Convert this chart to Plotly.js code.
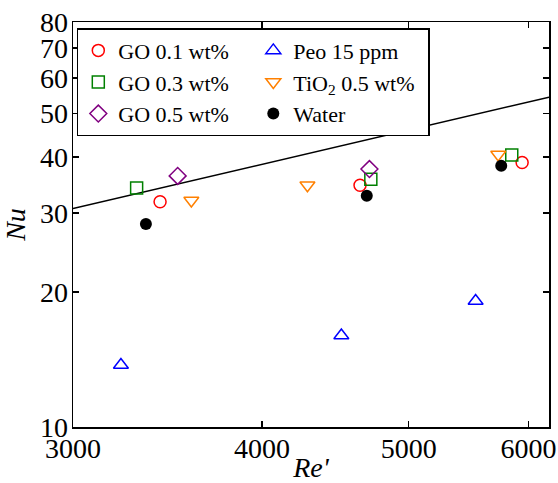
<!DOCTYPE html>
<html>
<head>
<meta charset="utf-8">
<script src="https://cdn.plot.ly/plotly-3.0.1.min.js"></script>
<style>html,body{margin:0;padding:0;background:#fff;}#chart{width:558px;height:483px;}</style>
</head>
<body>
<div id="chart"></div>
<script>
// Data
const go01Re = [3425, 4643, 5942];
const go01Nu = [31.8, 34.6, 38.9];
const go03Re = [3305, 4720, 5849];
const go03Nu = [34.1, 35.7, 40.4];
const go05Re = [3518, 4710];
const go05Nu = [36.3, 37.6];
const peoRe = [3227, 4513, 5536];
const peoNu = [13.75, 16.0, 19.1];
const tioRe = [3592, 4286, 5730];
const tioNu = [32.0, 34.6, 40.5];
const waterRe = [3352, 4691, 5756];
const waterNu = [28.35, 32.8, 38.25];
const corrRe = [3000, 6190];
const corrNu = [30.7, 54.4];
const xTicks = [3000, 4000, 5000, 6000];
const yTicks = [10, 20, 30, 40, 50, 60, 70, 80];

const FONT = "'Liberation Serif', 'Times New Roman', serif";
function mk(name, x, y, symbol, color, size, filled) {
  return {
    type: 'scatter', mode: 'markers', name: name, x: x, y: y,
    marker: {
      symbol: symbol, size: size, color: color,
      line: {color: color, width: filled ? 0 : 1.5}
    }
  };
}
const traces = [
  {type: 'scatter', mode: 'lines', x: corrRe, y: corrNu, showlegend: false,
   line: {color: 'black', width: 1.5}, hoverinfo: 'skip'},
  mk('GO 0.1 wt%', go01Re, go01Nu, 'circle-open', '#ff0000', 12, false),
  mk('Peo 15 ppm', peoRe, peoNu, 'triangle-up-open', '#0000ff', 13, false),
  mk('GO 0.3 wt%', go03Re, go03Nu, 'square-open', '#008000', 12, false),
  mk('TiO<sub>2</sub> 0.5 wt%', tioRe, tioNu, 'triangle-down-open', '#ff8000', 13, false),
  mk('GO 0.5 wt%', go05Re, go05Nu, 'diamond-open', '#800080', 13, false),
  mk('Water', waterRe, waterNu, 'circle', '#000000', 12, true)
];
const axisCommon = {
  type: 'log', showgrid: false, zeroline: false,
  showline: true, linecolor: 'black', linewidth: 1.5, mirror: 'ticks',
  ticks: 'inside', ticklen: 6, tickwidth: 1.5, tickcolor: 'black',
  tickfont: {family: FONT, size: 28, color: 'black'}
};
const layout = {
  width: 558, height: 483,
  margin: {l: 73, r: 9, t: 22, b: 56},
  paper_bgcolor: 'white', plot_bgcolor: 'white',
  font: {family: FONT, color: 'black'},
  showlegend: true,
  legend: {
    x: 0.008, y: 0.985, xanchor: 'left', yanchor: 'top',
    orientation: 'h', entrywidth: 130,
    bgcolor: 'white', bordercolor: 'black', borderwidth: 1.5,
    font: {family: FONT, size: 22, color: 'black'},
    traceorder: 'normal'
  },
  xaxis: Object.assign({}, axisCommon, {
    range: [Math.log10(3000), Math.log10(6190)],
    tickvals: xTicks, ticktext: xTicks.map(String),
    ticklabelstandoff: -4,
    title: {text: "<i>Re'</i>", font: {family: FONT, size: 28, color: 'black'}, standoff: 0}
  }),
  yaxis: Object.assign({}, axisCommon, {
    range: [1, Math.log10(80)],
    tickvals: yTicks, ticktext: yTicks.map(String),
    ticklabelstandoff: -2,
    title: {text: '<i>Nu</i>', font: {family: FONT, size: 28, color: 'black'}, standoff: 6}
  })
};
Plotly.newPlot('chart', traces, layout, {displayModeBar: false, staticPlot: true});
</script>
</body>
</html>
